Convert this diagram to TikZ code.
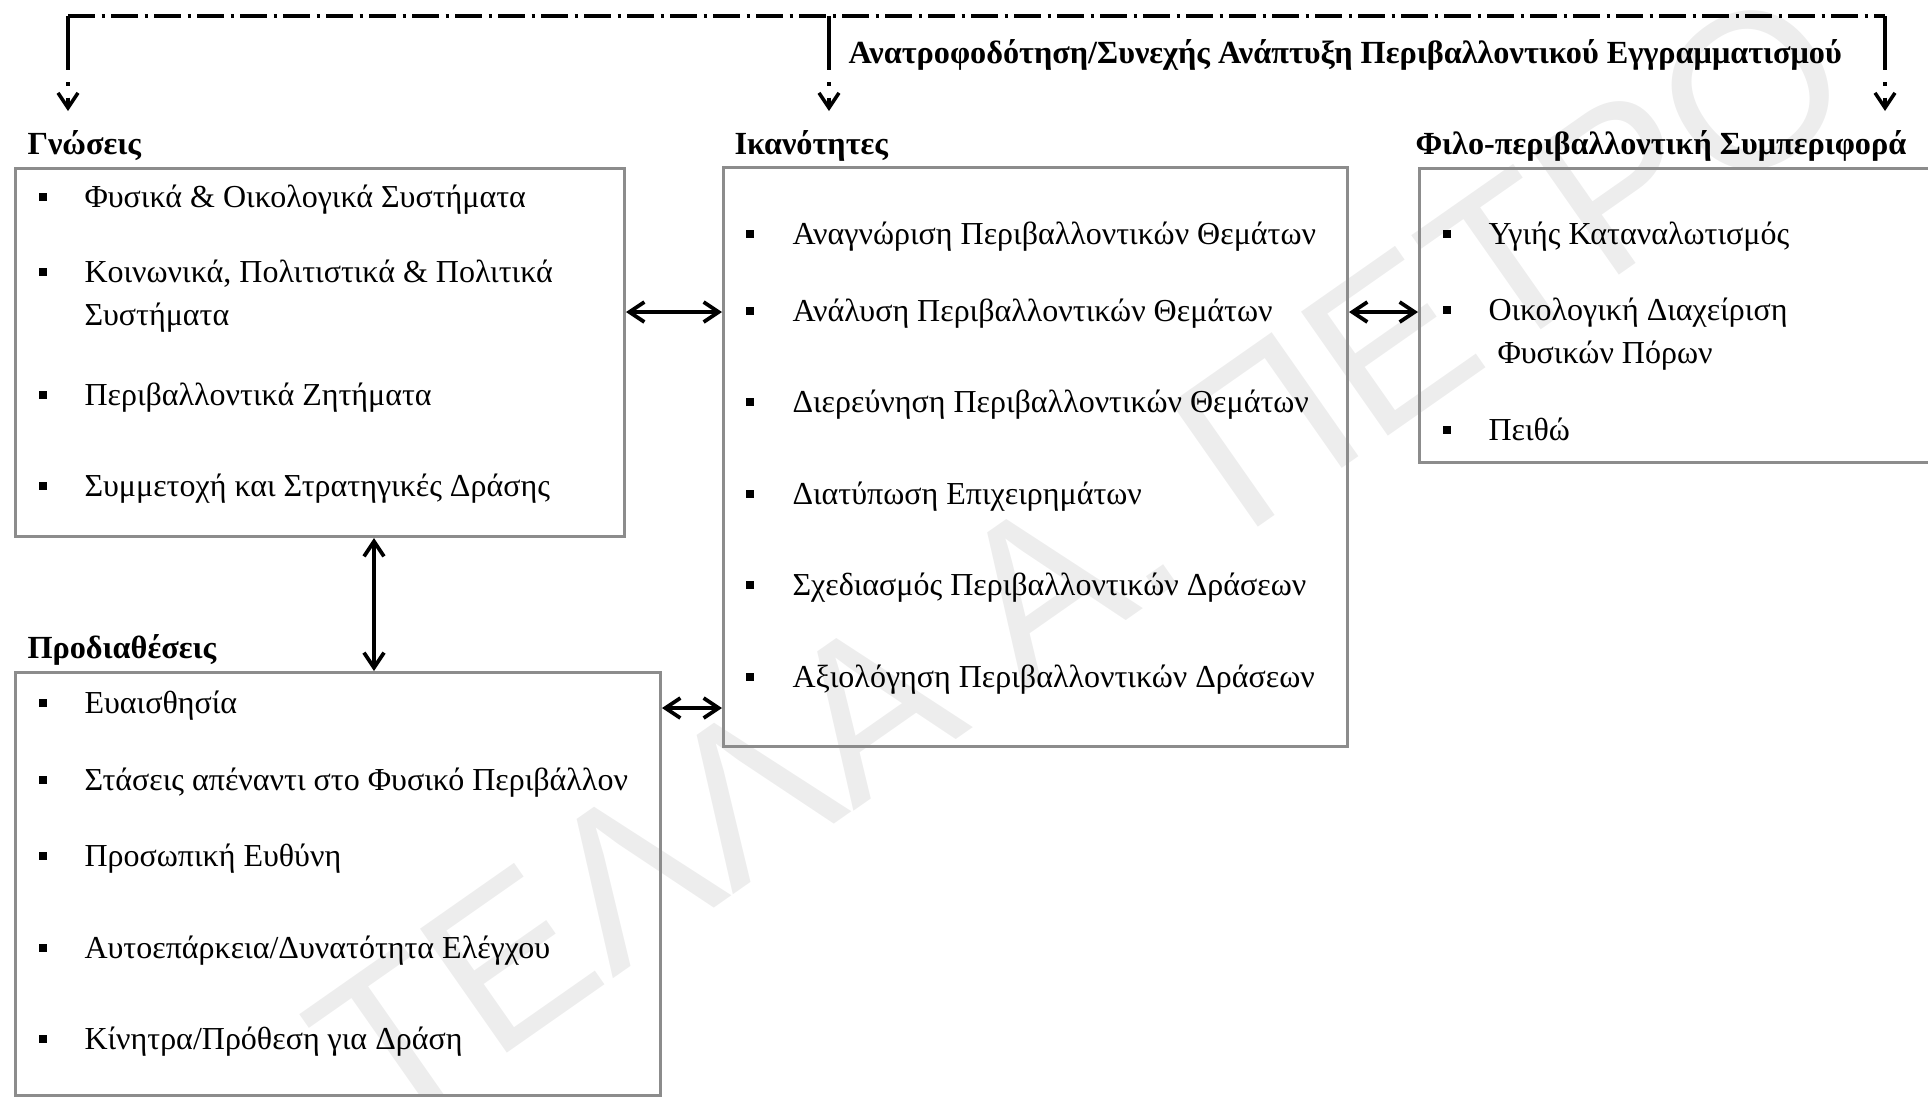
\documentclass[tikz,border=0pt]{standalone}
\usepackage{fontspec}
\setmainfont{Liberation Serif}
\setsansfont{Liberation Sans}
\usetikzlibrary{arrows.meta, positioning, calc}

\begin{document}
\begin{tikzpicture}[x=0.4pt, y=-0.4pt,
  panel/.style={draw=black!45, line width=1.2pt, anchor=north west, inner sep=0pt},
  heading/.style={font=\fontsize{12.9}{15}\selectfont\bfseries, anchor=base west, inner sep=0pt},
  item/.style={font=\fontsize{12.8}{15}\selectfont, anchor=base west, inner sep=0pt},
  biarrow/.style={{Straight Barb[length=6pt,width=8pt]}-{Straight Barb[length=6pt,width=8pt]}, line width=1.5pt},
  fbline/.style={line width=1.4pt, dash pattern=on 10.8pt off 2.6pt on 1.2pt off 2.6pt},
  fbdrop/.style={line width=1.4pt, -{Straight Barb[length=6pt,width=8pt]}, dash pattern=on 21.6pt off 4.8pt on 1.4pt off 4.8pt on 40pt off 0pt},
  watermark/.style={font=\fontsize{88}{88}\selectfont\sffamily, text=black!7, rotate=35, inner sep=0pt}
]
  \useasboundingbox (0,0) rectangle (1928,1096);
  \clip (0,0) rectangle (1928,1096);

  % faint watermark behind everything
  \node[watermark] (wm) at (1080,560) {ΤΕΛΛΑ Α. ΠΕΤΡΟ};

  % the four panels
  \node[panel, minimum width=243.8pt, minimum height=147.2pt] (gnoseis) at (13.5,167) {};
  \node[panel, minimum width=249.6pt, minimum height=231.6pt] (ikan) at (722,166) {};
  \node[panel, minimum width=206.8pt, minimum height=117.6pt] (symp) at (1418,167) {};
  \node[panel, minimum width=258.2pt, minimum height=169.2pt] (prodi) at (13.5,671) {};

  % headings
  \node[heading] (hgn) at (27,154) {Γνώσεις};
  \node[heading] (hik) at (734,154) {Ικανότητες};
  \node[heading] (hsy) at (1415,154) {Φιλο-περιβαλλοντική Συμπεριφορά};
  \node[heading] (hpr) at (27,658) {Προδιαθέσεις};
  \node[heading] (hfb) at (848,63) {Ανατροφοδότηση/Συνεχής Ανάπτυξη Περιβαλλοντικού Εγγραμματισμού};

  % Γνώσεις
  \foreach \n/\yy/\txt in {1/207/{Φυσικά \& Οικολογικά Συστήματα},
      2/282/{Κοινωνικά, Πολιτιστικά \& Πολιτικά},
      4/405/{Περιβαλλοντικά Ζητήματα},
      5/496/{Συμμετοχή και Στρατηγικές Δράσης}} {
    \fill (39,\yy-14) rectangle (47,\yy-6);
    \node[item] (gn\n) at (84,\yy) {\txt};
  }
  \node[item] (gn3) at (84,325) {Συστήματα};

  % Ικανότητες
  \foreach \n/\yy/\txt in {1/244/{Αναγνώριση Περιβαλλοντικών Θεμάτων},
      2/321/{Ανάλυση Περιβαλλοντικών Θεμάτων},
      3/412/{Διερεύνηση Περιβαλλοντικών Θεμάτων},
      4/504/{Διατύπωση Επιχειρημάτων},
      5/595/{Σχεδιασμός Περιβαλλοντικών Δράσεων},
      6/687/{Αξιολόγηση Περιβαλλοντικών Δράσεων}} {
    \fill (746,\yy-14) rectangle (754,\yy-6);
    \node[item] (ik\n) at (792,\yy) {\txt};
  }

  % Φιλο-περιβαλλοντική Συμπεριφορά
  \foreach \n/\yy/\txt in {1/244/{Υγιής Καταναλωτισμός},
      2/320/{Οικολογική Διαχείριση},
      4/440/{Πειθώ}} {
    \fill (1443,\yy-14) rectangle (1451,\yy-6);
    \node[item] (sy\n) at (1488,\yy) {\txt};
  }
  \node[item] (sy3) at (1497,363) {Φυσικών Πόρων};

  % Προδιαθέσεις
  \foreach \n/\yy/\txt in {1/713/{Ευαισθησία},
      2/790/{Στάσεις απέναντι στο Φυσικό Περιβάλλον},
      3/866/{Προσωπική Ευθύνη},
      4/958/{Αυτοεπάρκεια/Δυνατότητα Ελέγχου},
      5/1049/{Κίνητρα/Πρόθεση για Δράση}} {
    \fill (39,\yy-14) rectangle (47,\yy-6);
    \node[item] (pr\n) at (84,\yy) {\txt};
  }

  % two-way links
  \draw[biarrow] (gnoseis.east |- 0,312) -- (ikan.west |- 0,312);
  \draw[biarrow] (ikan.east |- 0,312) -- (symp.west |- 0,312);
  \draw[biarrow] (prodi.east |- 0,708) -- (ikan.west |- 0,708);
  \draw[biarrow] (gnoseis.south -| 374,0) -- (prodi.north -| 374,0);

  % feedback loop
  \coordinate (fbL) at (68,16);
  \coordinate (fbM) at (829,16);
  \coordinate (fbR) at (1885,16);
  \draw[fbline] (fbL) -- (fbR);
  \draw[fbdrop] (fbL) -- (fbL |- 0,111);
  \draw[fbdrop] (fbM) -- (fbM |- 0,111);
  \draw[fbdrop] (fbR) -- (fbR |- 0,111);
\end{tikzpicture}
\end{document}
